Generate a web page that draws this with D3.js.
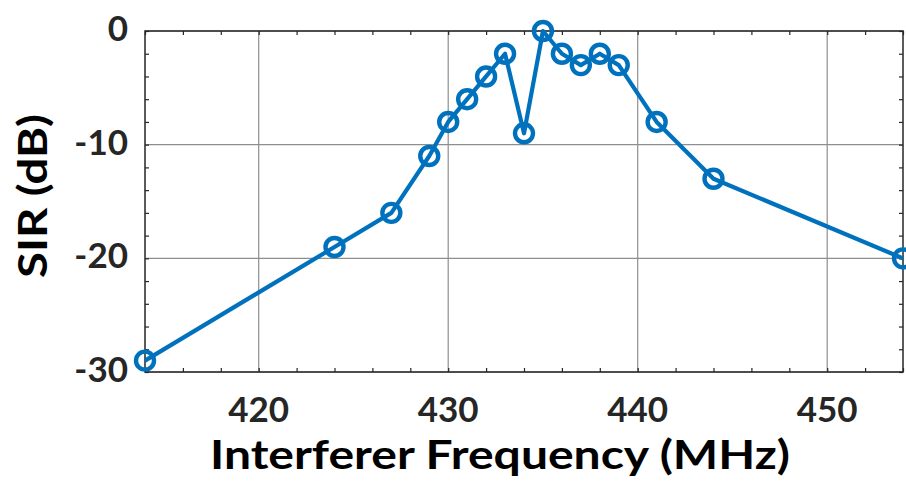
<!DOCTYPE html>
<html>
<head>
<meta charset="utf-8">
<script src="https://cdn.jsdelivr.net/npm/d3@7"></script>
<style>
  html, body { margin: 0; padding: 0; background: #fff; }
  svg { display: block; }
</style>
</head>
<body>
<svg id="chart" width="906" height="481"></svg>
<script>
// Interferer sweep: frequency (MHz) vs. signal-to-interference ratio (dB)
const freqMHz = [414, 424, 427, 429, 430, 431, 432, 433, 434, 435, 436, 437, 438, 439, 441, 444, 454];
const sirDb   = [-29, -19, -16, -11, -8, -6, -4, -2, -9, 0, -2, -3, -2, -3, -8, -13, -20];

const xTicks = [420, 430, 440, 450];
const yTicks = [-30, -20, -10, 0];
const xLabel = "Interferer Frequency (MHz)";
const yLabel = "SIR (dB)";

const W = 906, H = 481;
const m = { left: 145, top: 31, right: 3, bottom: 109 };
const iw = W - m.left - m.right, ih = H - m.top - m.bottom;

const svg = d3.select("#chart");
const g = svg.append("g").attr("transform", `translate(${m.left},${m.top})`);

const x = d3.scaleLinear().domain([414, 454]).range([0, iw]);
const y = d3.scaleLinear().domain([-30, 0]).range([ih, 0]);

const axisColor = "#262626";
const gridColor = "#8e8e8e";
const lineColor = "#0072BD";
const font = "Lato, 'Open Sans', sans-serif";

// grid lines at the major ticks
g.append("g").selectAll("line.gx").data(xTicks).join("line")
  .attr("x1", d => x(d)).attr("x2", d => x(d))
  .attr("y1", 0).attr("y2", ih)
  .attr("stroke", gridColor).attr("stroke-width", 1.2);
g.append("g").selectAll("line.gy").data(yTicks).join("line")
  .attr("x1", 0).attr("x2", iw)
  .attr("y1", d => y(d)).attr("y2", d => y(d))
  .attr("stroke", gridColor).attr("stroke-width", 1.2);

// inward ticks on all four sides (major + minor every 2 units)
const xMinor = d3.range(414, 454.001, 2);
const yMinor = d3.range(-30, 0.001, 2);
const tickLen = 4;
function ticks(axisGen, transform) {
  const a = g.append("g").attr("transform", transform).call(axisGen);
  a.select(".domain").remove();
  a.selectAll(".tick line").attr("stroke", axisColor).attr("stroke-width", 1.2);
  a.selectAll(".tick text").remove();
}
ticks(d3.axisBottom(x).tickValues(xMinor).tickSize(-tickLen), `translate(0,${ih})`);
ticks(d3.axisTop(x).tickValues(xMinor).tickSize(-tickLen), `translate(0,0)`);
ticks(d3.axisLeft(y).tickValues(yMinor).tickSize(-tickLen), `translate(0,0)`);
ticks(d3.axisRight(y).tickValues(yMinor).tickSize(-tickLen), `translate(${iw},0)`);

// box
g.append("rect").attr("x", 0).attr("y", 0).attr("width", iw).attr("height", ih)
  .attr("fill", "none").attr("stroke", axisColor).attr("stroke-width", 1.5);

// tick labels
g.append("g").selectAll("text").data(xTicks).join("text")
  .attr("x", d => x(d)).attr("y", ih + 50)
  .attr("text-anchor", "middle")
  .attr("font-family", font).attr("font-weight", 700).attr("font-size", 35)
  .attr("fill", axisColor).text(d => d);
g.append("g").selectAll("text").data(yTicks).join("text")
  .attr("x", -17).attr("y", d => y(d) + 10)
  .attr("text-anchor", "end")
  .attr("font-family", font).attr("font-weight", 700).attr("font-size", 35)
  .attr("fill", axisColor).text(d => d);

// axis titles
svg.append("text")
  .attr("x", 500).attr("y", 469)
  .attr("text-anchor", "middle")
  .attr("font-family", font).attr("font-weight", 700).attr("font-size", 40)
  .attr("textLength", 580).attr("lengthAdjust", "spacingAndGlyphs")
  .attr("fill", "#000").text(xLabel);
svg.append("text")
  .attr("transform", "translate(47,196) rotate(-90)")
  .attr("text-anchor", "middle")
  .attr("font-family", font).attr("font-weight", 700).attr("font-size", 40)
  .attr("textLength", 164).attr("lengthAdjust", "spacingAndGlyphs")
  .attr("fill", "#000").text(yLabel);

// data line with circle markers
const pts = freqMHz.map((f, i) => [f, sirDb[i]]);
g.append("path").datum(pts)
  .attr("d", d3.line().x(d => x(d[0])).y(d => y(d[1])))
  .attr("fill", "none").attr("stroke", lineColor).attr("stroke-width", 4.2)
  .attr("stroke-linejoin", "round");
g.append("g").selectAll("circle").data(pts).join("circle")
  .attr("cx", d => x(d[0])).attr("cy", d => y(d[1])).attr("r", 9)
  .attr("fill", "none").attr("stroke", lineColor).attr("stroke-width", 4.4);
</script>
</body>
</html>
